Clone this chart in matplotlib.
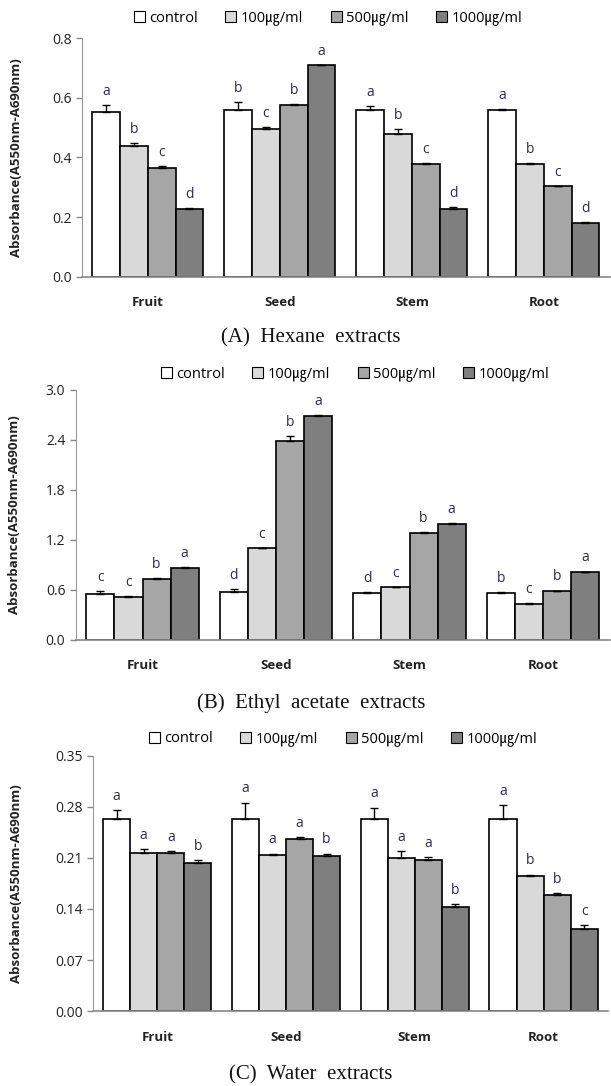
import matplotlib
matplotlib.use("Agg")
import matplotlib.pyplot as plt
import numpy as np
from matplotlib.patches import Patch

plt.rcParams['font.family'] = ['Open Sans', 'Noto Sans CJK KR', 'DejaVu Sans']

# data
parts = ['Fruit', 'Seed', 'Stem', 'Root']
series = ['control', '100㎍/ml', '500㎍/ml', '1000㎍/ml']
colors = ['#ffffff', '#d9d9d9', '#a6a6a6', '#7f7f7f']

# (A) Hexane
hex_vals = [[0.551, 0.560, 0.560, 0.560],
            [0.438, 0.496, 0.479, 0.378],
            [0.365, 0.576, 0.378, 0.303],
            [0.226, 0.709, 0.226, 0.182]]
hex_err = [[0.025, 0.025, 0.012, 0.003],
           [0.012, 0.007, 0.015, 0.003],
           [0.008, 0.003, 0.003, 0.003],
           [0.004, 0.002, 0.007, 0.003]]
hex_let = [['a', 'b', 'a', 'a'],
           ['b', 'c', 'b', 'b'],
           ['c', 'b', 'c', 'c'],
           ['d', 'a', 'd', 'd']]

# (B) Ethyl acetate
ea_vals = [[0.548, 0.568, 0.564, 0.564],
           [0.516, 1.096, 0.628, 0.428],
           [0.732, 2.38, 1.28, 0.58],
           [0.856, 2.69, 1.388, 0.808]]
ea_err = [[0.036, 0.04, 0.01, 0.01],
          [0.008, 0.006, 0.005, 0.01],
          [0.005, 0.06, 0.01, 0.008],
          [0.016, 0.01, 0.01, 0.01]]
ea_let = [['c', 'd', 'd', 'b'],
          ['c', 'c', 'c', 'c'],
          ['b', 'b', 'b', 'b'],
          ['a', 'a', 'a', 'a']]

# (C) Water
w_vals = [[0.264, 0.264, 0.264, 0.264],
          [0.217, 0.214, 0.2105, 0.185],
          [0.217, 0.2355, 0.207, 0.1586],
          [0.203, 0.212, 0.1423, 0.1121]]
w_err = [[0.0116, 0.022, 0.015, 0.0185],
         [0.0046, 0.002, 0.009, 0.002],
         [0.002, 0.003, 0.004, 0.003],
         [0.0037, 0.004, 0.0046, 0.006]]
w_let = [['a', 'a', 'a', 'a'],
         ['a', 'a', 'a', 'b'],
         ['a', 'a', 'a', 'b'],
         ['b', 'b', 'b', 'c']]

panels = [
    dict(vals=hex_vals, err=hex_err, let=hex_let, ticks=[0.0, 0.2, 0.4, 0.6, 0.8], fmt='%.1f',
         rect=[0.134, 0.745, 0.864, 0.220], leg=(328, 18), cap='(A)  Hexane  extracts', capy=338, ylx=17),
    dict(vals=ea_vals, err=ea_err, let=ea_let, ticks=[0.0, 0.6, 1.2, 1.8, 2.4, 3.0], fmt='%.1f',
         rect=[0.124, 0.411, 0.874, 0.230], leg=(355, 374), cap='(B)  Ethyl  acetate  extracts', capy=703, ylx=15),
    dict(vals=w_vals, err=w_err, let=w_let, ticks=[0.0, 0.07, 0.14, 0.21, 0.28, 0.35], fmt='%.2f',
         rect=[0.152, 0.069, 0.843, 0.235], leg=(343, 739), cap='(C)  Water  extracts', capy=1075, ylx=17),
]

W, H = 611, 1086
fig = plt.figure(figsize=(W / 100, H / 100), dpi=100)

bw = 0.21
x = np.arange(len(parts))
txtcol = '#2e2e48'

for p in panels:
    ax = fig.add_axes(p['rect'])
    ymax = p['ticks'][-1]
    for i in range(4):
        xs = x + (i - 1.5) * bw
        v = np.array(p['vals'][i])
        e = np.array(p['err'][i])
        ax.bar(xs, v, bw, color=colors[i], edgecolor='black', linewidth=1.2, zorder=2)
        ax.errorbar(xs, v, yerr=[np.zeros(4), e], fmt='none', ecolor='black',
                    elinewidth=1, capsize=3, capthick=1, zorder=3)
        for j in range(4):
            ax.text(xs[j], v[j] + e[j] + ymax * 0.025, p['let'][i][j], ha='center', va='bottom',
                    fontsize=10, color=txtcol)
    ax.set_xlim(-0.5, 3.5)
    ax.set_ylim(0, ymax)
    ax.set_yticks(p['ticks'])
    ax.set_yticklabels([p['fmt'] % t for t in p['ticks']], fontsize=10, color='#222222')
    ax.set_xticks(x)
    ax.set_xticklabels(parts, fontsize=9.5, fontweight='bold', color='#222222')
    ax.tick_params(axis='x', length=0, pad=14)
    ax.tick_params(axis='y', length=4, color='#888888', direction='out', width=1)
    for s in ['top', 'right']:
        ax.spines[s].set_visible(False)
    ax.spines['left'].set_color('#999999')
    ax.spines['bottom'].set_color('#888888')
    ax.spines['bottom'].set_linewidth(1.2)

    handles = [Patch(facecolor=colors[i], edgecolor='black', linewidth=0.8) for i in range(4)]
    fig.legend(handles, series, loc='center', bbox_to_anchor=(p['leg'][0] / W, 1 - p['leg'][1] / H),
               ncol=4, frameon=False, fontsize=10.5, handlelength=0.75, handleheight=0.75,
               handletextpad=0.3, columnspacing=1.9)

    r = p['rect']
    fig.text(p['ylx'] / W, r[1] + r[3] / 2, 'Absorbance(A550nm-A690nm)', rotation=90,
             ha='center', va='center', fontsize=9.5, fontweight='bold', color='#222222')
    fig.text(311 / W, 1 - p['capy'] / H, p['cap'], ha='center', va='center',
             fontsize=15, family='Liberation Serif', color='#111111')

fig.savefig('out.png', dpi=100)
